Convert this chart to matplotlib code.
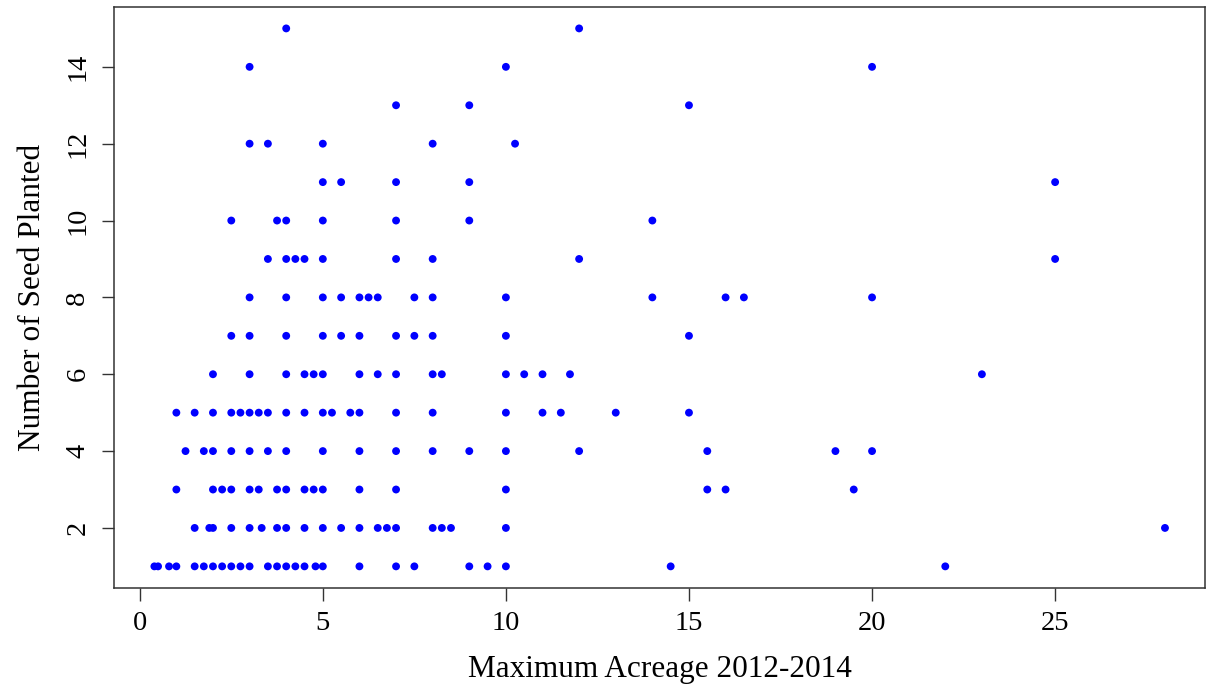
import numpy as np
import matplotlib.pyplot as plt

"""
Datos: acres maximos (2012-2014) agrupados por numero de semillas plantadas
"""

seeds_1 = [0.4, 0.5, 0.8, 1, 1.5, 1.75, 2, 2.25, 2.5, 2.75, 3, 3.5, 3.75, 4, 4.25,
           4.5, 4.8, 5, 6, 7, 7.5, 9, 9.5, 10, 14.5, 22]
seeds_2 = [1.5, 1.9, 2, 2.5, 3, 3.33, 3.75, 4, 4.5, 5, 5.5, 6, 6.5, 6.75, 7, 8,
           8.25, 8.5, 10, 28]
seeds_3 = [1, 2, 2.25, 2.5, 3, 3.25, 3.75, 4, 4.5, 4.75, 5, 6, 7, 10, 15.5, 16, 19.5]
seeds_4 = [1.25, 1.75, 2, 2.5, 3, 3.5, 4, 5, 6, 7, 8, 9, 10, 12, 15.5, 19, 20]
seeds_5 = [1, 1.5, 2, 2.5, 2.75, 3, 3.25, 3.5, 4, 4.5, 5, 5.25, 5.75, 6, 7, 8, 10,
           11, 11.5, 13, 15]
seeds_6 = [2, 3, 4, 4.5, 4.75, 5, 6, 6.5, 7, 8, 8.25, 10, 10.5, 11, 11.75, 23]
seeds_7 = [2.5, 3, 4, 5, 5.5, 6, 7, 7.5, 8, 10, 15]
seeds_8 = [3, 4, 5, 5.5, 6, 6.25, 6.5, 7.5, 8, 10, 14, 16, 16.5, 20]
seeds_9 = [3.5, 4, 4.25, 4.5, 5, 7, 8, 12, 25]
seeds_10 = [2.5, 3.75, 4, 5, 7, 9, 14]
seeds_11 = [5, 5.5, 7, 9, 25]
seeds_12 = [3, 3.5, 5, 8, 10.25]
seeds_13 = [7, 9, 15]
seeds_14 = [3, 10, 20]
seeds_15 = [4, 12]

rows = [seeds_1, seeds_2, seeds_3, seeds_4, seeds_5, seeds_6, seeds_7, seeds_8,
        seeds_9, seeds_10, seeds_11, seeds_12, seeds_13, seeds_14, seeds_15]

acreage = np.concatenate([np.array(r, dtype=float) for r in rows])
planted = np.concatenate([np.full(len(r), i + 1) for i, r in enumerate(rows)])

x_ticks = [0, 5, 10, 15, 20, 25]
y_ticks = [2, 4, 6, 8, 10, 12, 14]

"""
Grafica
"""

plt.rcParams['font.family'] = ['Liberation Serif', 'DejaVu Serif']

fig = plt.figure(figsize=(12.06, 6.9), dpi=100)
ax = fig.add_axes([0.0945, 0.148, 0.905, 0.842])

ax.scatter(acreage, planted, s=32, color='#0000ff', edgecolors='none', zorder=3)

# limites estilo R (4% extra)
xr = acreage.max() - acreage.min()
yr = planted.max() - planted.min()
ax.set_xlim(acreage.min() - 0.04 * xr, acreage.max() + 0.04 * xr)
ax.set_ylim(planted.min() - 0.04 * yr, planted.max() + 0.04 * yr)

ax.set_xticks(x_ticks)
ax.set_yticks(y_ticks)
ax.tick_params(axis='both', direction='out', length=9, width=1.0,
               color='#333333', labelsize=20.5, pad=8)
for lab in ax.get_yticklabels():
    lab.set_rotation(90)
    lab.set_va('center')

for sp in ax.spines.values():
    sp.set_linewidth(1.1)
    sp.set_color('#333333')

ax.set_xlabel("Maximum Acreage 2012-2014", fontsize=22.5, labelpad=13)
ax.set_ylabel("Number of Seed Planted", fontsize=22.5, labelpad=13)

fig.savefig("out.png", dpi=100)
